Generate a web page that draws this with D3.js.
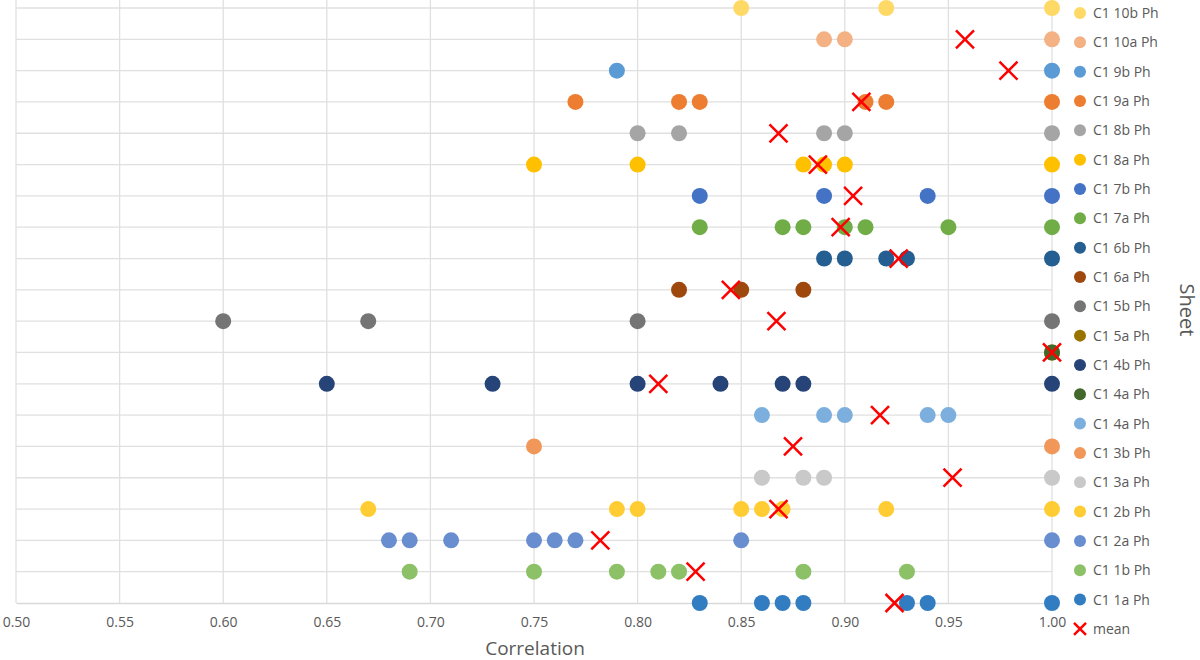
<!DOCTYPE html>
<html><head><meta charset="utf-8">
<script src="https://cdn.jsdelivr.net/npm/d3@7"></script>
<style>body{margin:0;background:#fff;font-family:"Open Sans",Lato,sans-serif}</style>
</head><body><div id="chart"></div>
<script>
// row = position on the y scale, vals = correlations
const series = [
  {name: "C1 10b Ph", row: 20, color: "#FFD966", vals: [0.85, 0.92, 1.00]},
  {name: "C1 10a Ph", row: 19, color: "#F4B183", vals: [0.89, 0.90, 1.00]},
  {name: "C1 9b Ph", row: 18, color: "#5B9BD5", vals: [0.79, 1.00]},
  {name: "C1 9a Ph", row: 17, color: "#ED7D31", vals: [0.77, 0.82, 0.83, 0.91, 0.92, 1.00]},
  {name: "C1 8b Ph", row: 16, color: "#A5A5A5", vals: [0.80, 0.82, 0.89, 0.90, 1.00]},
  {name: "C1 8a Ph", row: 15, color: "#FFC000", vals: [0.75, 0.80, 0.88, 0.89, 0.90, 1.00]},
  {name: "C1 7b Ph", row: 14, color: "#4472C4", vals: [0.83, 0.89, 0.94, 1.00]},
  {name: "C1 7a Ph", row: 13, color: "#70AD47", vals: [0.83, 0.87, 0.88, 0.90, 0.91, 0.95, 1.00]},
  {name: "C1 6b Ph", row: 12, color: "#255E91", vals: [0.89, 0.90, 0.92, 0.93, 1.00]},
  {name: "C1 6a Ph", row: 11, color: "#9E480E", vals: [0.82, 0.85, 0.88]},
  {name: "C1 5b Ph", row: 10, color: "#757575", vals: [0.60, 0.67, 0.80, 1.00]},
  {name: "C1 5a Ph", row: 9, color: "#997300", vals: [1.00]},
  {name: "C1 4b Ph", row: 8, color: "#264478", vals: [0.65, 0.73, 0.80, 0.84, 0.87, 0.88, 1.00]},
  {name: "C1 4a Ph", row: 9, color: "#43682B", vals: [1.00]},
  {name: "C1 4a Ph", row: 7, color: "#7CAFDD", vals: [0.86, 0.89, 0.90, 0.94, 0.95]},
  {name: "C1 3b Ph", row: 6, color: "#F1975A", vals: [0.75, 1.00]},
  {name: "C1 3a Ph", row: 5, color: "#C9C9C9", vals: [0.86, 0.88, 0.89, 1.00]},
  {name: "C1 2b Ph", row: 4, color: "#FFCD33", vals: [0.67, 0.79, 0.80, 0.85, 0.86, 0.87, 0.92, 1.00]},
  {name: "C1 2a Ph", row: 3, color: "#698ED0", vals: [0.68, 0.69, 0.71, 0.75, 0.76, 0.77, 0.85, 1.00]},
  {name: "C1 1b Ph", row: 2, color: "#8CC168", vals: [0.69, 0.75, 0.79, 0.81, 0.82, 0.88, 0.93]},
  {name: "C1 1a Ph", row: 1, color: "#327DC2", vals: [0.83, 0.86, 0.87, 0.88, 0.93, 0.94, 1.00]},
];
const means = [
  [19, 0.958], [18, 0.979], [17, 0.908], [16, 0.868], [15, 0.887], [14, 0.904],
  [13, 0.898], [12, 0.926], [11, 0.845], [10, 0.867], [9, 1.0], [8, 0.81],
  [7, 0.917], [6, 0.875], [5, 0.952], [4, 0.868], [3, 0.782], [2, 0.828], [1, 0.924]
];

const width = 1200, height = 660;
const svg = d3.select("#chart").append("svg").attr("width", width).attr("height", height);

const x = d3.scaleLinear().domain([0.5, 1.0]).range([16, 1052]);
const y = d3.scaleLinear().domain([1, 20]).range([603, 8]);

// gridlines
svg.append("g").selectAll("line").data(x.ticks(10)).enter().append("line")
  .attr("x1", d => x(d)).attr("x2", d => x(d)).attr("y1", 0).attr("y2", 603)
  .attr("stroke", "#E0E0E0").attr("stroke-width", 1.3);
svg.append("g").selectAll("line").data(d3.range(2, 21)).enter().append("line")
  .attr("x1", 16).attr("x2", 1052).attr("y1", d => y(d)).attr("y2", d => y(d))
  .attr("stroke", "#E0E0E0").attr("stroke-width", 1.3);

const xAxis = svg.append("g").attr("transform", "translate(0,603)")
  .call(d3.axisBottom(x).ticks(10).tickFormat(d3.format(".2f")).tickSize(0).tickPadding(14));
xAxis.select(".domain").attr("stroke", "#D9D9D9").attr("stroke-width", 1.3);
xAxis.selectAll("text").attr("fill", "#595959").style("font-size", "14px").style("font-family", "Open Sans");

svg.append("text").attr("x", 535).attr("y", 650).attr("text-anchor", "middle")
  .attr("dominant-baseline", "middle")
  .attr("fill", "#595959").style("font-size", "19px").text("Correlation");
svg.append("text").attr("transform", "translate(1180,310) rotate(90)").attr("text-anchor", "middle")
  .attr("fill", "#595959").style("font-size", "20px").text("Sheet");

// dots
series.forEach(s => {
  svg.append("g").selectAll("circle").data(s.vals).enter().append("circle")
    .attr("cx", d => x(d)).attr("cy", y(s.row)).attr("r", 8).attr("fill", s.color);
});

// means
const cross = (g, cx, cy, r) => {
  g.append("path").attr("d", `M${cx - r},${cy - r}L${cx + r},${cy + r}M${cx - r},${cy + r}L${cx + r},${cy - r}`)
    .attr("stroke", "#FF0000").attr("stroke-width", 2.5).attr("fill", "none");
};
const mg = svg.append("g");
means.forEach(m => cross(mg, x(m[1]), y(m[0]), 9));

// legend
const lg = svg.append("g");
const items = series.map(s => ({name: s.name, color: s.color})).concat([{name: "mean", mean: true}]);
items.forEach((it, i) => {
  const ly = 13 + i * 29.33;
  if (it.mean) cross(lg, 1080, ly, 6);
  else lg.append("circle").attr("cx", 1080).attr("cy", ly).attr("r", 6).attr("fill", it.color);
  lg.append("text").attr("x", 1093).attr("y", ly + 5).attr("fill", "#595959")
    .style("font-size", "14px").text(it.name);
});
</script></body></html>
